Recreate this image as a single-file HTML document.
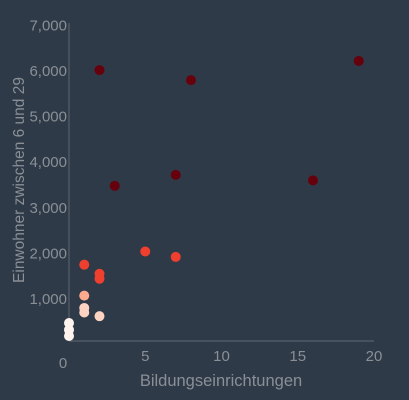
<!DOCTYPE html>
<html><head><meta charset="utf-8"><style>
html,body{margin:0;padding:0;background:#2e3a48;}
svg{display:block;font-family:"Liberation Sans",sans-serif;}
</style></head><body>
<svg id="chart" width="409" height="400" viewBox="0 0 409 400">
<rect width="409" height="400" fill="#2e3a48"/>
<g id="axes"></g><g id="dots"></g>
<text x="221" y="386" text-anchor="middle" fill="#8a8f96" font-size="16.5">Bildungseinrichtungen</text>
<text transform="translate(24,180) rotate(-90)" text-anchor="middle" fill="#8a8f96" font-size="15.5">Einwohner zwischen 6 und 29</text>
</svg>
<script>
const xValues=[2,8,19,3,7,16,5,7,1,2,2,1,1,1,2,0,0,0];
const yValues=[6000,5780,6200,3460,3700,3580,2020,1900,1730,1530,1420,1050,780,680,600,450,300,165];
const xTicks=[0,5,10,15,20];
const yTicks=[1000,2000,3000,4000,5000,6000,7000];
const xTickLabels=["0","5","10","15","20"];
const yTickLabels=["1,000","2,000","3,000","4,000","5,000","6,000","7,000"];
const colorThresholds=[500,900,1300,2500];
const colorRange=["#fff3ee","#fdd4c2","#fcab8f","#ef3f2e","#67000d"];
const NS="http://www.w3.org/2000/svg";
function xs(v){return 69+v*15.25;}
function ys(v){return 343.5-v*0.04557;}
function mk(t,a,p){const e=document.createElementNS(NS,t);for(const k in a)e.setAttribute(k,a[k]);p.appendChild(e);return e;}
const axes=document.getElementById('axes');
let l=mk('line',{x1:69,y1:23,x2:69,y2:341,stroke:'#56606c','stroke-width':1.2},axes);


l=mk('line',{x1:69,y1:341,x2:374,y2:341,stroke:'#56606c','stroke-width':1.2},axes);


yTicks.forEach((v,i)=>{const t=mk('text',{x:67,y:ys(v)+6,'text-anchor':'end',fill:'#8a8f96','font-size':15},axes);t.textContent=yTickLabels[i];

});
xTicks.forEach((v,i)=>{const t=mk('text',{x:xs(v)+(v===0?-6:0),y:v===0?368:361,'text-anchor':'middle',fill:'#8a8f96','font-size':15},axes);t.textContent=xTickLabels[i];

});
function col(v){let i=0;while(i<colorThresholds.length&&v>=colorThresholds[i])i++;return colorRange[i];}
const dots=document.getElementById('dots');
xValues.forEach((x,i)=>{const c=mk('circle',{cx:xs(x),cy:ys(yValues[i]),r:5,fill:col(yValues[i])},dots);

});
</script>
</body></html>
